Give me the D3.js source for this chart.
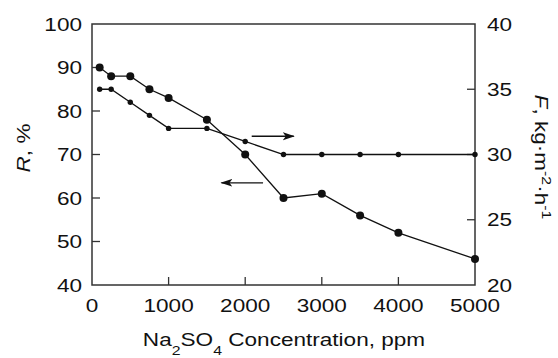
<!DOCTYPE html>
<html>
<head>
<meta charset="utf-8">
<script src="https://cdn.jsdelivr.net/npm/d3@7"></script>
<style>
    body { margin: 0; background: #fff; }
    text { font-family: "Liberation Sans", Arial, sans-serif; fill: #111; }
</style>
</head>
<body>
<div id="chart"></div>
<script>
// concentration (ppm)
var concR = [100, 250, 500, 750, 1000, 1500, 2000, 2500, 3000, 3500, 4000, 5000];
var rejection = [90, 88, 88, 85, 83, 78, 70, 60, 61, 56, 52, 46];
var concF = [100, 250, 500, 750, 1000, 1500, 2000, 2500, 3000, 3500, 4000, 5000];
var flux = [35, 35, 34, 33, 32, 32, 31, 30, 30, 30, 30, 30];

var xTicks = [0, 1000, 2000, 3000, 4000, 5000];
var leftTicks = [40, 50, 60, 70, 80, 90, 100];
var rightTicks = [20, 25, 30, 35, 40];

// arrows pointing to the matching axis
var arrowToRight = { x: [2085, 2634], f: 31.4 };
var arrowToLeft = { x: [2233, 1690], r: 63.5 };

var width = 558, height = 358;
var margin = { top: 24, right: 83, bottom: 73, left: 92 };
var w = width - margin.left - margin.right;
var h = height - margin.top - margin.bottom;

var x = d3.scaleLinear().domain([0, 5000]).range([0, w]);
var yL = d3.scaleLinear().domain([40, 100]).range([h, 0]);
var yR = d3.scaleLinear().domain([20, 40]).range([h, 0]);

var svg = d3.select('#chart').append('svg')
    .attr('width', width)
    .attr('height', height);

var defs = svg.append('defs');
defs.append('marker')
    .attr('id', 'head')
    .attr('viewBox', '0 -5 12 10')
    .attr('refX', 11)
    .attr('refY', 0)
    .attr('markerUnits', 'userSpaceOnUse')
    .attr('markerWidth', 12)
    .attr('markerHeight', 10)
    .attr('orient', 'auto')
    .append('path')
    .attr('d', 'M0,-4L12,0L0,4L3,0Z')
    .attr('fill', '#111');

var g = svg.append('g')
    .attr('transform', 'translate(' + margin.left + ',' + margin.top + ')');

var tickLen = 8;
var fontSize = '18.5px';
var stretch = 1.22; // the original type is wider than Liberation Sans

// text placed at (px, py), stretched along its reading direction
function label(parent, px, py, anchor, rot) {
    var tf = 'translate(' + px + ',' + py + ')';
    if (rot) tf += ' rotate(' + rot + ')';
    tf += ' scale(' + stretch + ',1)';
    return parent.append('text')
        .attr('transform', tf)
        .attr('text-anchor', anchor)
        .style('font-size', fontSize);
}

// frame
g.append('rect')
    .attr('width', w)
    .attr('height', h)
    .attr('fill', 'none')
    .attr('stroke', '#333')
    .attr('stroke-width', 1.5);

// x ticks (inward)
xTicks.forEach(function(t) {
    if (t > 0 && t < 5000) {
        g.append('line')
            .attr('x1', x(t)).attr('x2', x(t))
            .attr('y1', h).attr('y2', h - tickLen)
            .attr('stroke', '#333').attr('stroke-width', 1.3);
    }
    label(g, x(t), h + 27, 'middle').text(t);
});

// left ticks
leftTicks.forEach(function(t) {
    if (t > 40 && t < 100) {
        g.append('line')
            .attr('x1', 0).attr('x2', tickLen)
            .attr('y1', yL(t)).attr('y2', yL(t))
            .attr('stroke', '#333').attr('stroke-width', 1.3);
    }
    label(g, -10, yL(t) + 6.6, 'end').text(t);
});

// right ticks
rightTicks.forEach(function(t) {
    if (t > 20 && t < 40) {
        g.append('line')
            .attr('x1', w).attr('x2', w - tickLen)
            .attr('y1', yR(t)).attr('y2', yR(t))
            .attr('stroke', '#333').attr('stroke-width', 1.3);
    }
    label(g, w + 12, yR(t) + 6.6, 'start').text(t);
});

// rejection series
var lineR = d3.line()
    .x(function(d, i) { return x(concR[i]); })
    .y(function(d) { return yL(d); });
g.append('path')
    .datum(rejection)
    .attr('d', lineR)
    .attr('fill', 'none')
    .attr('stroke', '#111')
    .attr('stroke-width', 1.3);
g.selectAll('circle.r')
    .data(rejection)
    .enter().append('circle')
    .attr('class', 'r')
    .attr('cx', function(d, i) { return x(concR[i]); })
    .attr('cy', function(d) { return yL(d); })
    .attr('r', 4)
    .attr('fill', '#111');

// flux series
var lineF = d3.line()
    .x(function(d, i) { return x(concF[i]); })
    .y(function(d) { return yR(d); });
g.append('path')
    .datum(flux)
    .attr('d', lineF)
    .attr('fill', 'none')
    .attr('stroke', '#111')
    .attr('stroke-width', 1.3);
g.selectAll('circle.f')
    .data(flux)
    .enter().append('circle')
    .attr('class', 'f')
    .attr('cx', function(d, i) { return x(concF[i]); })
    .attr('cy', function(d) { return yR(d); })
    .attr('r', 2.7)
    .attr('fill', '#111');

// arrows
g.append('line')
    .attr('x1', x(arrowToRight.x[0])).attr('x2', x(arrowToRight.x[1]))
    .attr('y1', yR(arrowToRight.f)).attr('y2', yR(arrowToRight.f))
    .attr('stroke', '#111').attr('stroke-width', 1.3)
    .attr('marker-end', 'url(#head)');
g.append('line')
    .attr('x1', x(arrowToLeft.x[0])).attr('x2', x(arrowToLeft.x[1]))
    .attr('y1', yL(arrowToLeft.r)).attr('y2', yL(arrowToLeft.r))
    .attr('stroke', '#111').attr('stroke-width', 1.3)
    .attr('marker-end', 'url(#head)');

// axis titles
var xt = label(svg, 284, 346, 'middle');
xt.append('tspan').text('Na');
xt.append('tspan').attr('dy', 9).style('font-size', '13px').text('2');
xt.append('tspan').attr('dy', -9).text('SO');
xt.append('tspan').attr('dy', 9).style('font-size', '13px').text('4');
xt.append('tspan').attr('dy', -9).text(' Concentration, ppm');

var yt = label(svg, 30, 148, 'middle', -90);
yt.append('tspan').style('font-style', 'italic').text('R');
yt.append('tspan').text(', %');

var ft = label(svg, 535, 157, 'middle', 90);
ft.append('tspan').style('font-style', 'italic').text('F');
ft.append('tspan').text(', kg\u00b7m');
ft.append('tspan').attr('dy', -7).style('font-size', '13px').text('-2');
ft.append('tspan').attr('dy', 7).text('\u00b7h');
ft.append('tspan').attr('dy', -7).style('font-size', '13px').text('-1');
</script>
</body>
</html>
